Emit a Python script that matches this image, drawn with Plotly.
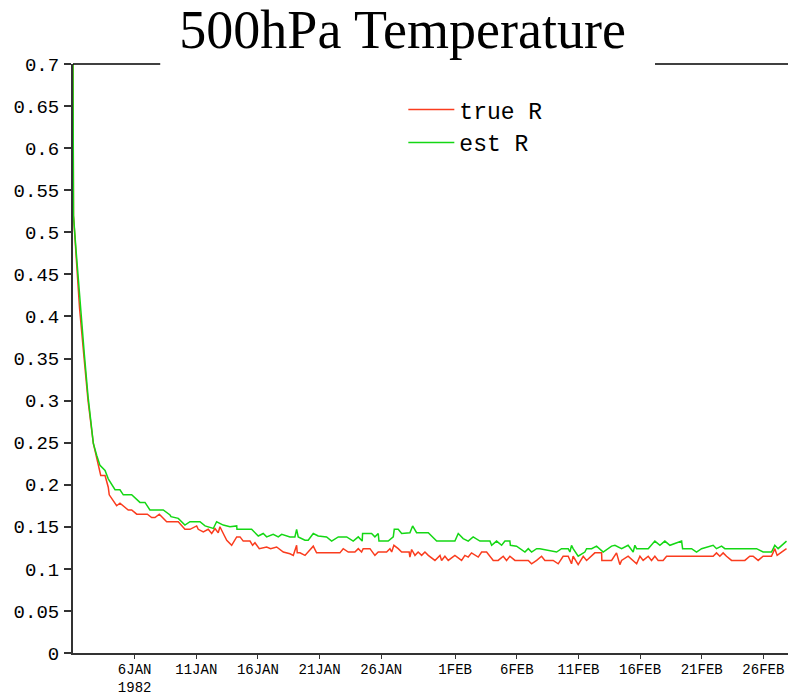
import pandas as pd
import plotly.graph_objects as go

# time in days since 1982-01-01 00Z
true_days = [0.00, 0.04, 0.24, 0.53, 0.89, 1.22, 1.65, 1.92, 2.25, 2.60, 2.86, 2.94, 3.14, 3.54, 3.81,
             4.48, 4.76, 5.17, 6.03, 6.38, 6.65, 7.00, 7.60, 8.54, 9.08, 9.49, 10.03, 10.16, 10.57, 10.97,
             11.25, 11.52, 11.78, 11.92, 12.19, 12.47, 12.87, 13.28, 13.55, 13.81, 14.36, 14.57, 14.76,
             15.11, 15.71, 16.03, 16.52, 17.06, 17.60, 17.87, 18.14, 18.19, 18.41, 18.82, 19.49, 19.76,
             21.65, 21.92, 22.33, 22.87, 23.14, 23.41, 23.54, 24.09, 24.49, 24.76, 25.44, 25.71, 25.85,
             26.03, 26.38, 26.66, 27.27, 27.33, 27.47, 27.74, 28.00, 28.28, 28.55, 28.82, 29.36, 29.77,
             29.90, 30.17, 30.44, 30.98, 31.52, 31.79, 32.06, 32.33, 32.87, 33.15, 33.55, 34.09, 34.49,
             34.90, 35.17, 35.44, 35.85, 36.93, 37.20, 37.61, 38.01, 38.28, 38.95, 39.36, 39.76, 40.17,
             40.44, 40.57, 40.98, 41.39, 41.66, 42.33, 42.88, 42.90, 43.69, 44.09, 44.36, 44.50, 45.03,
             45.44, 45.72, 45.99, 46.25, 46.66, 46.93, 47.20, 47.47, 47.87, 48.15, 51.93, 52.20, 52.47,
             52.74, 53.01, 53.42, 54.50, 54.90, 55.17, 55.58, 55.98, 56.66, 56.93, 57.12, 57.48, 57.88]
true_r = [0.700, 0.520, 0.475, 0.410, 0.352, 0.300, 0.249, 0.233, 0.211, 0.211, 0.197, 0.188, 0.184, 0.175, 0.178,
          0.170, 0.170, 0.165, 0.165, 0.161, 0.161, 0.165, 0.156, 0.156, 0.147, 0.147, 0.151, 0.147, 0.144, 0.147,
          0.142, 0.148, 0.143, 0.150, 0.142, 0.134, 0.128, 0.138, 0.138, 0.133, 0.133, 0.128, 0.131,
          0.124, 0.126, 0.124, 0.126, 0.120, 0.118, 0.116, 0.128, 0.119, 0.119, 0.116, 0.127, 0.119,
          0.119, 0.124, 0.120, 0.120, 0.124, 0.120, 0.124, 0.124, 0.116, 0.120, 0.120, 0.124, 0.120,
          0.128, 0.124, 0.120, 0.120, 0.114, 0.123, 0.116, 0.120, 0.116, 0.120, 0.116, 0.110, 0.116,
          0.110, 0.115, 0.110, 0.116, 0.110, 0.116, 0.114, 0.119, 0.114, 0.120, 0.120, 0.110, 0.110,
          0.115, 0.110, 0.115, 0.110, 0.110, 0.106, 0.110, 0.115, 0.110, 0.110, 0.106, 0.115, 0.115,
          0.106, 0.115, 0.105, 0.115, 0.110, 0.119, 0.119, 0.110, 0.110, 0.119, 0.105, 0.110, 0.115,
          0.110, 0.106, 0.115, 0.110, 0.115, 0.110, 0.115, 0.110, 0.110, 0.115, 0.115, 0.119, 0.115,
          0.119, 0.115, 0.110, 0.110, 0.115, 0.115, 0.110, 0.115, 0.115, 0.124, 0.116, 0.120, 0.124]

est_days = [0.00, 0.04, 0.24, 0.57, 0.92, 1.22, 1.65, 1.92, 2.19, 2.60, 2.86, 3.41, 3.81, 4.08, 4.76,
            5.43, 5.84, 6.24, 7.32, 7.87, 7.95, 8.54, 9.08, 9.49, 10.30, 10.71, 11.38, 11.65, 12.19, 12.73,
            13.28, 13.30, 14.49, 15.03, 15.43, 15.71, 16.24, 16.65, 16.93, 17.60, 18.00, 18.14, 18.27,
            18.82, 19.08, 19.49, 19.89, 20.57, 20.98, 21.52, 22.20, 22.73, 23.14, 23.46, 23.49, 24.22,
            24.49, 24.76, 24.82, 25.57, 25.98, 26.06, 26.38, 26.66, 27.33, 27.55, 27.87, 28.82, 29.50,
            30.09, 30.98, 31.25, 31.65, 32.06, 32.46, 33.01, 33.82, 33.96, 34.36, 34.77, 35.04, 35.44,
            35.48, 35.98, 36.66, 36.93, 37.20, 37.61, 37.87, 39.23, 39.63, 40.17, 40.31, 40.44, 40.57,
            40.98, 41.52, 41.66, 42.07, 42.47, 43.01, 43.69, 43.96, 44.50, 45.03, 45.44, 45.58, 45.72,
            46.66, 47.20, 47.61, 48.01, 48.42, 49.37, 49.45, 50.18, 50.58, 50.99, 51.93, 52.20, 52.61,
            52.88, 55.45, 55.98, 56.66, 56.93, 57.20, 57.88]
est_r = [0.700, 0.520, 0.480, 0.415, 0.355, 0.305, 0.249, 0.235, 0.223, 0.217, 0.207, 0.194, 0.194, 0.188, 0.188,
         0.179, 0.179, 0.170, 0.170, 0.164, 0.162, 0.160, 0.152, 0.156, 0.156, 0.151, 0.148, 0.156, 0.152, 0.150,
         0.151, 0.147, 0.147, 0.139, 0.142, 0.138, 0.141, 0.138, 0.141, 0.138, 0.138, 0.147, 0.138,
         0.134, 0.134, 0.142, 0.139, 0.138, 0.133, 0.138, 0.138, 0.133, 0.138, 0.133, 0.142, 0.142,
         0.138, 0.142, 0.133, 0.133, 0.138, 0.147, 0.147, 0.142, 0.143, 0.151, 0.143, 0.143, 0.133,
         0.133, 0.133, 0.142, 0.136, 0.133, 0.138, 0.133, 0.133, 0.128, 0.133, 0.128, 0.133, 0.133,
         0.128, 0.127, 0.120, 0.124, 0.120, 0.124, 0.124, 0.120, 0.124, 0.124, 0.120, 0.128, 0.124,
         0.115, 0.120, 0.124, 0.124, 0.127, 0.120, 0.127, 0.128, 0.124, 0.128, 0.120, 0.128, 0.124,
         0.124, 0.133, 0.128, 0.133, 0.128, 0.133, 0.124, 0.124, 0.120, 0.124, 0.128, 0.124, 0.127,
         0.124, 0.124, 0.120, 0.120, 0.128, 0.124, 0.133]

tick_dates = ["1982-01-06", "1982-01-11", "1982-01-16", "1982-01-21", "1982-01-26",
              "1982-02-01", "1982-02-06", "1982-02-11", "1982-02-16", "1982-02-21", "1982-02-26"]
tick_labels = ["6JAN<br>1982", "11JAN", "16JAN", "21JAN", "26JAN",
               "1FEB", "6FEB", "11FEB", "16FEB", "21FEB", "26FEB"]
x_start, x_end = "1982-01-01", "1982-02-28"

t0 = pd.Timestamp("1982-01-01")
true_t = t0 + pd.to_timedelta(true_days, unit="D")
est_t = t0 + pd.to_timedelta(est_days, unit="D")

fig = go.Figure()
fig.add_trace(go.Scatter(x=true_t, y=true_r, mode="lines", name="true R",
                         line=dict(color="rgb(250,60,30)", width=1.5)))
fig.add_trace(go.Scatter(x=est_t, y=est_r, mode="lines", name="est R",
                         line=dict(color="rgb(20,215,20)", width=1.5)))

axcol = "#333333"
fig.update_xaxes(type="date", range=[x_start, x_end], tickvals=tick_dates, ticktext=tick_labels,
                 ticks="outside", ticklen=4, tickwidth=1, tickcolor=axcol, automargin=False,
                 showline=True, linecolor=axcol, linewidth=2, showgrid=False, zeroline=False,
                 ticklabelstandoff=-2,
                 tickfont=dict(family="Liberation Mono", size=14, color="black"))
fig.update_yaxes(range=[0, 0.7], tick0=0, dtick=0.05, ticks="outside", ticklen=7, tickwidth=2,
                 tickcolor=axcol, showline=True, linecolor=axcol, linewidth=2, showgrid=False,
                 zeroline=False, ticklabelstandoff=1, automargin=False,
                 tickfont=dict(family="Liberation Mono", size=19, color="black"))

fig.update_layout(
    width=788, height=695,
    margin=dict(l=73, r=0, t=64, b=42, autoexpand=False),
    paper_bgcolor="white", plot_bgcolor="white",
    title=dict(text="500hPa Temperature", x=0.511, xanchor="center", xref="container",
               y=0.958, yanchor="middle", yref="container", automargin=False,
               font=dict(family="Liberation Serif", size=54, color="black")),
    legend=dict(x=0.462, y=0.959, xanchor="left", yanchor="top", bgcolor="rgba(0,0,0,0)",
                font=dict(family="Liberation Mono", size=23, color="black"),
                itemwidth=46, tracegroupgap=0),
    shapes=[
        dict(type="line", xref="paper", yref="paper", x0=0, x1=0.122, y0=1, y1=1,
             line=dict(color="black", width=1.5)),
        dict(type="line", xref="paper", yref="paper", x0=0.814, x1=1, y0=1, y1=1,
             line=dict(color="black", width=1.5)),
    ],
)

fig.write_html("out.html", config={"displayModeBar": False},
               post_script="document.body.style.margin='0';document.body.style.overflow='hidden';")
